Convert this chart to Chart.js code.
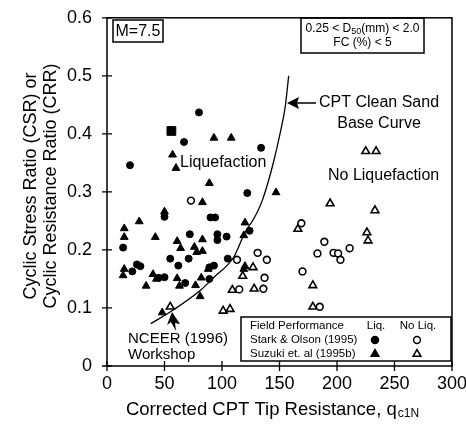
<!DOCTYPE html>
<html>
<head>
<meta charset="utf-8">
<script src="https://cdn.jsdelivr.net/npm/chart.js@4.4.0/dist/chart.umd.min.js"></script>
<style>
  body { margin: 0; background: #fff; }
</style>
</head>
<body>
<canvas id="chart" width="466" height="430"></canvas>
<script>
// Stark & Olson (1995) - liquefaction (filled circles)
const starkLiqX = [80, 20, 67, 134, 122, 50, 90, 94, 124, 72, 96, 104, 96, 14, 55, 71, 62, 105, 22, 26, 29, 68, 89, 93, 89, 45, 50];
const starkLiqY = [0.437, 0.346, 0.386, 0.376, 0.298, 0.257, 0.256, 0.256, 0.233, 0.227, 0.227, 0.223, 0.217, 0.204, 0.185, 0.185, 0.173, 0.185, 0.163, 0.175, 0.172, 0.143, 0.170, 0.173, 0.150, 0.152, 0.153];
// Stark & Olson (1995) - no liquefaction (open circles)
const starkNoX = [73, 113, 131, 139, 137, 115, 136, 169, 189, 183, 197, 201, 203, 211, 170, 185];
const starkNoY = [0.285, 0.183, 0.195, 0.183, 0.152, 0.132, 0.133, 0.246, 0.214, 0.194, 0.195, 0.194, 0.183, 0.203, 0.163, 0.102];
// Suzuki et al (1995b) - liquefaction (filled triangles)
const suzLiqX = [57, 60, 93, 108, 89, 147, 83, 50, 28, 120, 15, 15, 42, 83, 119, 61, 64, 76, 78, 83, 15, 14, 34, 40, 43, 61, 63, 77, 82, 88, 81, 120, 119, 48];
const suzLiqY = [0.364, 0.341, 0.393, 0.393, 0.315, 0.299, 0.282, 0.266, 0.249, 0.247, 0.237, 0.222, 0.222, 0.218, 0.225, 0.215, 0.203, 0.205, 0.196, 0.198, 0.167, 0.156, 0.138, 0.158, 0.150, 0.151, 0.138, 0.139, 0.152, 0.167, 0.120, 0.172, 0.167, 0.092];
// Suzuki et al (1995b) - no liquefaction (open triangles)
const suzNoX = [225, 234, 194, 233, 166, 226, 227, 179, 179, 118, 127, 109, 128, 101, 107, 55];
const suzNoY = [0.370, 0.370, 0.280, 0.268, 0.236, 0.230, 0.216, 0.139, 0.102, 0.155, 0.170, 0.131, 0.133, 0.095, 0.098, 0.102];
// single square marker
const squareX = [56];
const squareY = [0.405];
// CPT clean sand base curve
const curveX = [38, 58, 81, 93, 110, 120, 128, 135, 144, 151, 155, 158];
const curveY = [0.073, 0.097, 0.130, 0.153, 0.187, 0.230, 0.255, 0.285, 0.345, 0.405, 0.447, 0.500];

const xTicks = [0, 50, 100, 150, 200, 250, 300];
const yTicks = [0, 0.1, 0.2, 0.3, 0.4, 0.5, 0.6];

const FONT = "'Liberation Sans', Arial, sans-serif";

function pts(xs, ys) {
  return xs.map((v, i) => ({ x: v, y: ys[i] }));
}

let annot = {
  id: "annot",
  afterDraw(chart) {
    const ctx = chart.ctx;
    const a = chart.chartArea;
    const sx = chart.scales.x, sy = chart.scales.y;
    ctx.save();
    ctx.strokeStyle = "#000";
    ctx.fillStyle = "#000";

    // frame
    ctx.lineWidth = 1.5;
    ctx.strokeRect(a.left, a.top, a.right - a.left, a.bottom - a.top);

    // ticks crossing the axes
    ctx.lineWidth = 1.3;
    ctx.beginPath();
    yTicks.forEach((t) => {
      const py = sy.getPixelForValue(t);
      ctx.moveTo(a.left - 5, py);
      ctx.lineTo(a.left + 5, py);
    });
    xTicks.forEach((t) => {
      const px = sx.getPixelForValue(t);
      ctx.moveTo(px, a.bottom - 5);
      ctx.lineTo(px, a.bottom + 5);
    });
    ctx.stroke();

    // axis titles
    ctx.textBaseline = "middle";
    ctx.textAlign = "left";
    ctx.font = "18.5px " + FONT;
    const main = "Corrected CPT Tip Resistance, q";
    const w1 = ctx.measureText(main).width;
    ctx.font = "12px " + FONT;
    const w2 = ctx.measureText("c1N").width;
    let x0 = 272 - (w1 + w2) / 2;
    ctx.font = "18.5px " + FONT;
    ctx.fillText(main, x0, 410);
    ctx.font = "12px " + FONT;
    ctx.fillText("c1N", x0 + w1 + 1, 414);

    ctx.save();
    ctx.translate(0, 186);
    ctx.rotate(-Math.PI / 2);
    ctx.textAlign = "center";
    ctx.font = "18px " + FONT;
    ctx.fillText("Cyclic Stress Ratio (CSR) or", 0, 31);
    ctx.fillText("Cyclic Resistance Ratio (CRR)", 0, 51);
    ctx.restore();

    // M=7.5 box
    ctx.lineWidth = 1.5;
    ctx.strokeRect(113, 20, 50, 22);
    ctx.font = "16px " + FONT;
    ctx.textAlign = "center";
    ctx.fillText("M=7.5", 138, 31.5);

    // grain size box
    ctx.strokeRect(301, 18, 123, 35);
    ctx.font = "12px " + FONT;
    ctx.textAlign = "left";
    const p1 = "0.25 < D", p2 = "50", p3 = "(mm) < 2.0";
    const a1 = ctx.measureText(p1).width, a3 = ctx.measureText(p3).width;
    ctx.font = "9px " + FONT;
    const a2 = ctx.measureText(p2).width;
    let bx = 362.5 - (a1 + a2 + a3) / 2;
    ctx.font = "12px " + FONT;
    ctx.fillText(p1, bx, 29);
    ctx.fillText(p3, bx + a1 + a2, 29);
    ctx.font = "9px " + FONT;
    ctx.fillText(p2, bx + a1, 32);
    ctx.font = "12px " + FONT;
    ctx.textAlign = "center";
    ctx.fillText("FC (%) < 5", 362.5, 43);

    // region labels
    ctx.font = "16px " + FONT;
    ctx.textAlign = "left";
    ctx.fillText("Liquefaction", 180, 163);
    ctx.fillText("No Liquefaction", 328, 176);
    ctx.fillText("CPT Clean Sand", 319, 103);
    ctx.textAlign = "center";
    ctx.fillText("Base Curve", 379, 124);

    // arrow to the curve
    ctx.lineWidth = 1.5;
    ctx.beginPath();
    ctx.moveTo(296, 103);
    ctx.lineTo(316, 103);
    ctx.stroke();
    ctx.beginPath();
    ctx.moveTo(287, 103);
    ctx.lineTo(299, 97);
    ctx.lineTo(297, 103);
    ctx.lineTo(299, 109);
    ctx.closePath();
    ctx.fill();

    // NCEER label + arrow
    ctx.font = "15px " + FONT;
    ctx.textAlign = "left";
    ctx.fillText("NCEER (1996)", 128, 339);
    ctx.fillText("Workshop", 128, 355);
    ctx.beginPath();
    ctx.moveTo(172, 312);
    ctx.lineTo(180, 324);
    ctx.lineTo(175, 323);
    ctx.lineTo(176, 331);
    ctx.lineTo(171, 322);
    ctx.lineTo(167, 325);
    ctx.closePath();
    ctx.fill();

    // legend box
    ctx.fillStyle = "#fff";
    ctx.fillRect(241, 317, 210, 44);
    ctx.fillStyle = "#000";
    ctx.lineWidth = 1.5;
    ctx.strokeRect(241, 317, 210, 44);
    ctx.font = "11.5px " + FONT;
    ctx.textAlign = "left";
    ctx.fillText("Field Performance", 250, 326);
    ctx.fillText("Stark & Olson (1995)", 250, 340);
    ctx.fillText("Suzuki et. al (1995b)", 250, 354);
    ctx.textAlign = "center";
    ctx.fillText("Liq.", 376, 326);
    ctx.fillText("No Liq.", 418, 326);
    const dp = Chart.helpers.drawPoint;
    ctx.lineWidth = 1.5;
    ctx.fillStyle = "#000";
    dp(ctx, { pointStyle: "circle", radius: 3.5, borderWidth: 1.5 }, 375, 340);
    dp(ctx, { pointStyle: "triangle", radius: 4.5, borderWidth: 1.5 }, 375, 354);
    ctx.fillStyle = "#fff";
    dp(ctx, { pointStyle: "circle", radius: 3.4, borderWidth: 1.5 }, 417, 340);
    dp(ctx, { pointStyle: "triangle", radius: 4.5, borderWidth: 1.5 }, 417, 354);
    ctx.restore();
  },
};

const ctx = document.getElementById("chart").getContext("2d");
new Chart(ctx, {
  type: "scatter",
  data: {
    datasets: [
      {
        label: "Base curve",
        data: pts(curveX, curveY),
        showLine: true,
        borderColor: "#000",
        borderWidth: 1.3,
        pointRadius: 0,
        cubicInterpolationMode: "monotone",
      },
      {
        label: "Stark Liq",
        data: pts(starkLiqX, starkLiqY),
        pointStyle: "circle",
        pointRadius: 3.5,
        backgroundColor: "#000",
        borderColor: "#000",
        borderWidth: 1,
      },
      {
        label: "Stark No Liq",
        data: pts(starkNoX, starkNoY),
        pointStyle: "circle",
        pointRadius: 3.4,
        backgroundColor: "#fff",
        borderColor: "#000",
        borderWidth: 1.6,
      },
      {
        label: "Suzuki Liq",
        data: pts(suzLiqX, suzLiqY),
        pointStyle: "triangle",
        pointRadius: 4.5,
        backgroundColor: "#000",
        borderColor: "#000",
        borderWidth: 1,
      },
      {
        label: "Suzuki No Liq",
        data: pts(suzNoX, suzNoY),
        pointStyle: "triangle",
        pointRadius: 4.5,
        backgroundColor: "#fff",
        borderColor: "#000",
        borderWidth: 1.6,
      },
      {
        label: "square",
        data: pts(squareX, squareY),
        pointStyle: "rect",
        pointRadius: 6.2,
        backgroundColor: "#000",
        borderColor: "#000",
        borderWidth: 1,
      },
    ],
  },
  options: {
    responsive: false,
    animation: false,
    events: [],
    layout: { padding: { top: 13, right: 14, left: 0, bottom: 0 } },
    plugins: {
      legend: { display: false },
      tooltip: { enabled: false },
    },
    scales: {
      x: {
        type: "linear",
        min: 0,
        max: 300,
        afterBuildTicks: (s) => { s.ticks = xTicks.map((v) => ({ value: v })); },
        afterFit: (s) => { s.height = 64; },
        grid: { display: false },
        border: { display: false },
        ticks: {
          color: "#000",
          font: { size: 18, family: FONT },
          padding: -1,
          maxRotation: 0,
        },
      },
      y: {
        type: "linear",
        min: 0,
        max: 0.6,
        afterBuildTicks: (s) => { s.ticks = yTicks.map((v) => ({ value: v })); },
        afterFit: (s) => { s.width = 107; },
        grid: { display: false },
        border: { display: false },
        ticks: {
          color: "#000",
          font: { size: 18, family: FONT },
          padding: 7,
          callback: (v) => (v === 0 ? "0" : v.toFixed(1)),
        },
      },
    },
  },
  plugins: [annot],
});
</script>
</body>
</html>
